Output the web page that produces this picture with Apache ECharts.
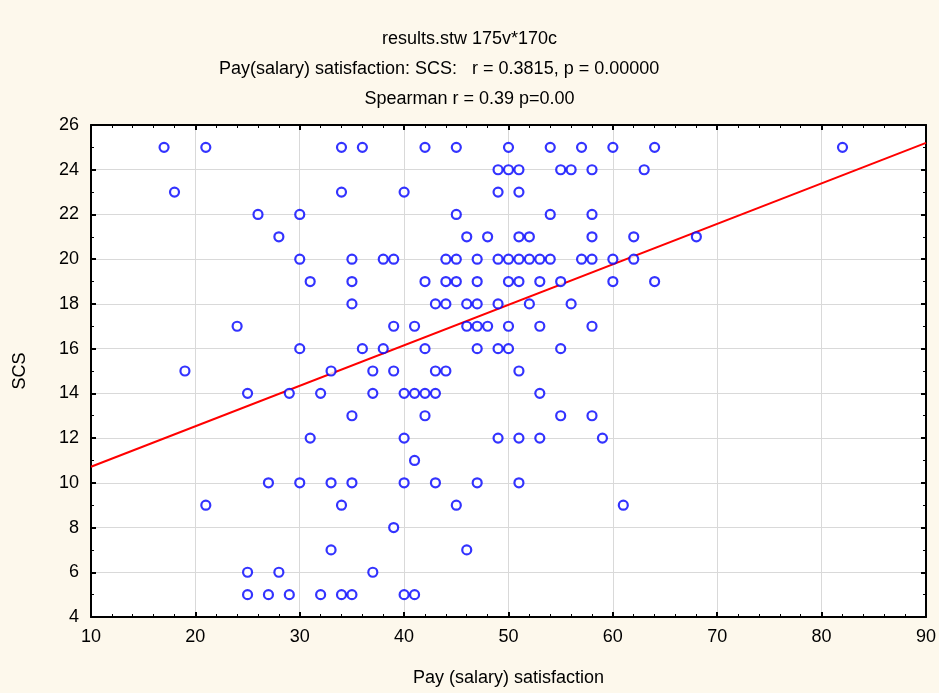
<!DOCTYPE html>
<html>
<head>
<meta charset="utf-8">
<script src="https://cdn.jsdelivr.net/npm/echarts@6/dist/echarts.min.js"></script>
<style>
  html, body { margin: 0; padding: 0; background: #fdf8ec; }
  #chart { width: 939px; height: 693px; }
</style>
</head>
<body>
<div id="chart"></div>
<script>
// data, grouped by SCS value
var pay25 = [17, 21, 34, 36, 42, 45, 50, 54, 57, 60, 64, 82];
var pay24 = [49, 50, 51, 55, 56, 58, 63];
var pay23 = [18, 34, 40, 49, 51];
var pay22 = [26, 30, 45, 54, 58];
var pay21 = [28, 46, 48, 51, 52, 58, 62, 68];
var pay20 = [30, 35, 38, 39, 44, 45, 47, 49, 50, 51, 52, 53, 54, 57, 58, 60, 62];
var pay19 = [31, 35, 42, 44, 45, 47, 50, 51, 53, 55, 60, 64];
var pay18 = [35, 43, 44, 46, 47, 49, 52, 56];
var pay17 = [24, 39, 41, 46, 47, 48, 50, 53, 58];
var pay16 = [30, 36, 38, 42, 47, 49, 50, 55];
var pay15 = [19, 33, 37, 39, 43, 44, 51];
var pay14 = [25, 29, 32, 37, 40, 41, 42, 43, 53];
var pay13 = [35, 42, 55, 58];
var pay12 = [31, 40, 49, 51, 53, 59];
var pay11 = [41];
var pay10 = [27, 30, 33, 35, 40, 43, 47, 51];
var pay9 = [21, 34, 45, 61];
var pay8 = [39];
var pay7 = [33, 46];
var pay6 = [25, 28, 37];
var pay5 = [25, 27, 29, 32, 34, 35, 40, 41];

var scsLevels = [25, 24, 23, 22, 21, 20, 19, 18, 17, 16, 15, 14, 13, 12, 11, 10, 9, 8, 7, 6, 5];
var payByLevel = [pay25, pay24, pay23, pay22, pay21, pay20, pay19, pay18, pay17, pay16,
                  pay15, pay14, pay13, pay12, pay11, pay10, pay9, pay8, pay7, pay6, pay5];

// regression line end points
var fitX = [10, 90];
var fitY = [10.72, 25.2];

var titles = ['results.stw 175v*170c',
              'Pay(salary) satisfaction: SCS:   r = 0.3815, p = 0.00000',
              'Spearman r = 0.39 p=0.00'];
// the 2nd line sits left of centre in the original
var titleLeft = ['center', 219, 'center'];

var points = [];
for (var i = 0; i < scsLevels.length; i++) {
    for (var j = 0; j < payByLevel[i].length; j++)
        points.push([payByLevel[i][j], scsLevels[i]]);
}
var fitLine = [];
for (var k = 0; k < fitX.length; k++) fitLine.push([fitX[k], fitY[k]]);

var font = 'Liberation Sans, Arial, sans-serif';
var titleList = [];
for (var t = 0; t < titles.length; t++) {
    titleList.push({
        text: titles[t],
        left: titleLeft[t],
        top: 30 + t * 30,
        padding: 0,
        textStyle: { fontFamily: font, fontSize: 18, fontWeight: 'normal', color: '#000' }
    });
}

var myChart = echarts.init(document.getElementById('chart'));

var baseX = {
    type: 'value',
    min: 10, max: 90, interval: 10,
    axisLine: { show: true, onZero: false, lineStyle: { color: '#000', width: 2 } },
    axisTick: { show: true, inside: true, length: 5, lineStyle: { color: '#000', width: 2 } },
    minorTick: { show: true, splitNumber: 5, length: 3, lineStyle: { color: '#000', width: 1 } },
    splitLine: { show: false }
};
var baseY = {
    type: 'value',
    min: 4, max: 26, interval: 2,
    axisLine: { show: true, onZero: false, lineStyle: { color: '#000', width: 2 } },
    axisTick: { show: true, inside: true, length: 5, lineStyle: { color: '#000', width: 2 } },
    minorTick: { show: true, splitNumber: 2, length: 3, lineStyle: { color: '#000', width: 1 } },
    splitLine: { show: false }
};

var option = {
    backgroundColor: '#fdf8ec',
    animation: false,
    title: titleList,
    grid: {
        left: 91, right: 11, top: 125, bottom: 76,
        show: true, backgroundColor: '#fff', borderWidth: 0
    },
    xAxis: [
        echarts.util.merge({
            position: 'bottom',
            name: 'Pay (salary) satisfaction',
            nameLocation: 'middle',
            nameGap: 52,
            nameTextStyle: { fontFamily: font, fontSize: 18, color: '#000' },
            axisLabel: { fontFamily: font, fontSize: 18, color: '#000', margin: 11 },
            splitLine: { show: true, lineStyle: { color: '#d9d9d9', width: 1 } }
        }, baseX, false),
        echarts.util.merge({ position: 'top', axisLabel: { show: false } }, baseX, false)
    ],
    yAxis: [
        echarts.util.merge({
            position: 'left',
            name: 'SCS',
            nameLocation: 'middle',
            nameGap: 62,
            nameTextStyle: { fontFamily: font, fontSize: 18, color: '#000' },
            axisLabel: { fontFamily: font, fontSize: 18, color: '#000', margin: 12 },
            splitLine: { show: true, lineStyle: { color: '#d9d9d9', width: 1 } }
        }, baseY, false),
        echarts.util.merge({ position: 'right', axisLabel: { show: false } }, baseY, false)
    ],
    series: [
        {
            type: 'scatter',
            data: points,
            symbol: 'circle',
            symbolSize: 9,
            itemStyle: { color: '#fff', borderColor: '#0000ff', borderWidth: 2.2 },
            z: 3
        },
        {
            type: 'line',
            data: fitLine,
            symbol: 'none',
            lineStyle: { color: '#ff0000', width: 2 },
            z: 2
        }
    ]
};
myChart.setOption(option);
</script>
</body>
</html>
